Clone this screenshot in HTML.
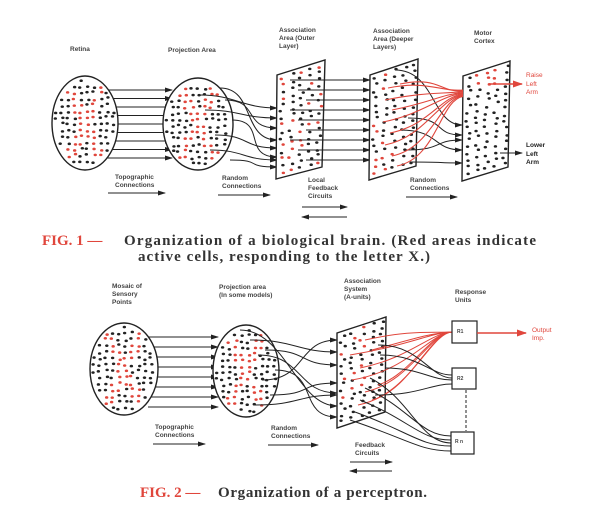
<!DOCTYPE html>
<html><head><meta charset="utf-8"><style>
html,body{margin:0;padding:0;background:#fff;}
svg{display:block}
.l{font-family:"Liberation Sans",sans-serif;font-size:6.5px;fill:#444;font-weight:bold}
.r{font-family:"Liberation Sans",sans-serif;font-size:6.5px;fill:#e0463c}
.c{font-family:"Liberation Serif",serif;font-size:15px;font-weight:bold;fill:#333}
.cr{font-family:"Liberation Serif",serif;font-size:15px;font-weight:bold;fill:#e0463c}
</style></head><body>
<svg id="s" width="600" height="517" viewBox="0 0 600 517" xmlns="http://www.w3.org/2000/svg">
<defs>
<marker id="a" markerWidth="8" markerHeight="6" refX="7" refY="3" orient="auto" markerUnits="userSpaceOnUse"><path d="M0,0.5 L8,3 L0,5.5 z" fill="#222"/></marker>
<marker id="ar" markerWidth="10" markerHeight="7" refX="9" refY="3.5" orient="auto" markerUnits="userSpaceOnUse"><path d="M0,0 L10,3.5 L0,7 z" fill="#e0463c"/></marker>
</defs>
<g id="g"></g>
<text class="l" x="70" y="51">Retina</text>
<text class="l" x="168" y="52">Projection  Area</text>
<text class="l" x="279" y="32">Association</text>
<text class="l" x="279" y="40">Area  (Outer</text>
<text class="l" x="279" y="48">Layer)</text>
<text class="l" x="373" y="33">Association</text>
<text class="l" x="373" y="41">Area  (Deeper</text>
<text class="l" x="373" y="49">Layers)</text>
<text class="l" x="474" y="35">Motor</text>
<text class="l" x="474" y="43">Cortex</text>
<text class="r" x="526" y="77">Raise</text>
<text class="r" x="526" y="86">Left</text>
<text class="r" x="526" y="94">Arm</text>
<text class="l" x="526" y="147" style="fill:#222">Lower</text>
<text class="l" x="526" y="156" style="fill:#222">Left</text>
<text class="l" x="526" y="164" style="fill:#222">Arm</text>
<text class="l" x="115" y="179">Topographic</text>
<text class="l" x="115" y="187">Connections</text>
<text class="l" x="222" y="180">Random</text>
<text class="l" x="222" y="188">Connections</text>
<text class="l" x="308" y="182">Local</text>
<text class="l" x="308" y="190">Feedback</text>
<text class="l" x="308" y="198">Circuits</text>
<text class="l" x="410" y="182">Random</text>
<text class="l" x="410" y="190">Connections</text>
<text class="cr" x="42" y="245">FIG.  1  —</text>
<text class="c" x="124" y="245" textLength="412" lengthAdjust="spacing">Organization of a biological brain.  (Red areas indicate</text>
<text class="c" x="138" y="261" textLength="292" lengthAdjust="spacing">active cells, responding to the letter X.)</text>
<text class="l" x="112" y="288">Mosaic  of</text>
<text class="l" x="112" y="296">Sensory</text>
<text class="l" x="112" y="304">Points</text>
<text class="l" x="219" y="289">Projection  area</text>
<text class="l" x="219" y="297">(In  some  models)</text>
<text class="l" x="344" y="283">Association</text>
<text class="l" x="344" y="291">System</text>
<text class="l" x="344" y="299">(A-units)</text>
<text class="l" x="455" y="294">Response</text>
<text class="l" x="455" y="302">Units</text>
<text class="r" x="532" y="332">Output</text>
<text class="r" x="532" y="340">Imp.</text>
<text class="l" x="155" y="429">Topographic</text>
<text class="l" x="155" y="437">Connections</text>
<text class="l" x="271" y="430">Random</text>
<text class="l" x="271" y="438">Connections</text>
<text class="l" x="355" y="447">Feedback</text>
<text class="l" x="355" y="455">Circuits</text>
<text class="cr" x="140" y="497">FIG.  2  —</text>
<text class="c" x="218" y="497" textLength="209" lengthAdjust="spacing">Organization of a perceptron.</text>
<text class="l" x="457" y="333" style="font-size:5px">R1</text>
<text class="l" x="457" y="380" style="font-size:5px">R2</text>
<text class="l" x="455" y="443" style="font-size:5px">R  n</text>
</svg>
<script>
(function(){
var g=document.getElementById('g'),NS='http://www.w3.org/2000/svg';
var seed=7;function rnd(){seed|=0;seed=seed+0x6D2B79F5|0;var t=Math.imul(seed^seed>>>15,1|seed);t=t+Math.imul(t^t>>>7,61|t)^t;return((t^t>>>14)>>>0)/4294967296;}
function el(n,a){var e=document.createElementNS(NS,n);for(var k in a)e.setAttribute(k,a[k]);g.appendChild(e);return e;}
var K='#222',R='#e0463c';
function ell(cx,cy,rx,ry,xs){
 el('ellipse',{cx:cx,cy:cy,rx:rx,ry:ry,fill:'#fff',stroke:K,'stroke-width':1.4});
 for(var y=cy-ry+4;y<cy+ry-2;y+=6.3)for(var x=cx-rx+3;x<cx+rx-2;x+=6.5){
  var px=x+(rnd()-.5)*3,py=y+(rnd()-.5)*3,dx=(px-cx)/rx,dy=(py-cy)/ry;
  if(dx*dx+dy*dy>0.86)continue;
  var red=xs&&(Math.abs(dy-dx*1.5)<0.25||Math.abs(dy+dx*1.5)<0.25)&&Math.abs(dy)<0.78;
  el('ellipse',{cx:px,cy:py,rx:1.7,ry:1.3,fill:red?R:K});
 }}
function pan(p,redf){
 el('polygon',{points:p.map(function(q){return q.join(',')}).join(' '),fill:'#fff',stroke:K,'stroke-width':1.4});
 for(var v=0.04;v<0.97;v+=0.065)for(var u=0.12;u<0.93;u+=0.2){
  var uu=u+(rnd()-.5)*.1,vv=v+(rnd()-.5)*.03;
  var x=(1-vv)*((1-uu)*p[0][0]+uu*p[1][0])+vv*((1-uu)*p[3][0]+uu*p[2][0]);
  var y=(1-vv)*((1-uu)*p[0][1]+uu*p[1][1])+vv*((1-uu)*p[3][1]+uu*p[2][1]);
  el('ellipse',{cx:x,cy:y,rx:1.7,ry:1.3,fill:redf(uu,vv)?R:K});
 }}
function ln(d,c,w,m){var a={d:d,fill:'none',stroke:c||K,'stroke-width':w||1};if(m)a['marker-end']='url(#'+m+')';return el('path',a);}
var i,y;
for(i=0;i<9;i++){y=90+i*8.5;ln('M105,'+y+' L172,'+y,K,1,'a');}
ell(85,123,33,47,true);ell(198,124,35,46,true);
var c1=[[200,95,277,108],[205,110,277,118],[215,135,277,148],[210,150,277,160],[225,100,277,128],[230,160,277,167],[220,88,277,140],[232,120,277,157]];
c1.forEach(function(c){ln('M'+c[0]+','+c[1]+' C'+(c[0]+35)+','+c[1]+' '+(c[2]-35)+','+c[3]+' '+c[2]+','+c[3],K,1,'a');});
pan([[277,75],[325,60],[322,167],[276,179]],function(u,v){return rnd()<0.28;});
for(i=0;i<9;i++){y=80+i*10;ln('M'+(290+(i%3)*8)+','+y+' L370,'+y,K,1,'a');}
pan([[370,75],[418,59],[416,166],[369,180]],function(u,v){return u<0.5&&rnd()<0.3;});
var c2=[[395,70,462,125],[400,130,462,150],[405,150,462,140],[410,162,462,163],[408,118,462,135]];
c2.forEach(function(c){ln('M'+c[0]+','+c[1]+' C'+(c[0]+40)+','+c[1]+' '+(c[2]-30)+','+c[3]+' '+c[2]+','+c[3],K,1,'a');});
pan([[463,76],[510,61],[508,167],[462,181]],function(u,v){return v<0.18&&u>0.25&&u<0.85;});
var rs=[[388,88],[400,84],[385,100],[392,110],[383,122],[390,133],[385,145],[392,156],[397,166]];
rs.forEach(function(r,k){ln('M'+r[0]+','+r[1]+' C'+(r[0]+40)+','+(r[1]-8)+' 440,'+(92+k)+' 463,'+(90+k*0.8),R,1.1);});
ln('M490,84 L522,84',R,1.6,'ar');
ln('M500,153 L522,153',K,1,'a');
ln('M108,193 L165,193',K,1,'a');ln('M218,195 L270,195',K,1,'a');
ln('M302,207 L347,207',K,1,'a');ln('M347,217 L302,217',K,1,'a');
ln('M406,197 L457,197',K,1,'a');
for(i=0;i<8;i++){y=337+i*10;ln('M148,'+y+' L218,'+y,K,1,'a');}
ell(124,369,34,46,true);ell(246,371,33,46,true);
var c3=[[250,340,337,352],[265,350,337,365],[270,395,337,383],[255,405,337,395],[240,330,337,406],[275,370,337,417],[262,380,337,340],[258,355,337,393]];
c3.forEach(function(c){ln('M'+c[0]+','+c[1]+' C'+(c[0]+45)+','+c[1]+' '+(c[2]-40)+','+c[3]+' '+c[2]+','+c[3],K,1,'a');});
pan([[337,333],[386,317],[385,412],[337,428]],function(u,v){return u<0.6&&v<0.7&&rnd()<0.3;});
var r2=[[365,340],[350,355],[360,368],[352,380],[365,392],[358,405],[372,350],[378,385],[372,400]];
r2.forEach(function(r){ln('M'+r[0]+','+r[1]+' C410,'+(r[1]-10)+' 430,333 452,332',R,1);});
var b2=[[380,355,452,375],[385,368,452,380],[375,395,452,384],[378,345,452,378]];
b2.forEach(function(c){ln('M'+c[0]+','+c[1]+' C420,'+c[1]+' 430,'+c[3]+' '+c[2]+','+c[3],K,1);});
var b3=[[360,400,451,440],[355,412,451,446],[350,420,451,451],[365,388,451,436],[370,378,451,443]];
b3.forEach(function(c){ln('M'+c[0]+','+c[1]+' C410,'+(c[1]+20)+' 420,'+c[3]+' '+c[2]+','+c[3],K,1);});
el('rect',{x:452,y:321,width:25,height:22,fill:'#fff',stroke:K,'stroke-width':1.2});
el('rect',{x:452,y:368,width:24,height:21,fill:'#fff',stroke:K,'stroke-width':1.2});
el('rect',{x:451,y:432,width:23,height:22,fill:'#fff',stroke:K,'stroke-width':1.2});
ln('M466,390 L466,431',K,1).setAttribute('stroke-dasharray','3,2');
ln('M477,333 L526,333',R,1.6,'ar');
ln('M153,444 L205,444',K,1,'a');ln('M268,445 L318,445',K,1,'a');
ln('M350,462 L392,462',K,1,'a');ln('M392,471 L350,471',K,1,'a');
})();
</script>
</body></html>
